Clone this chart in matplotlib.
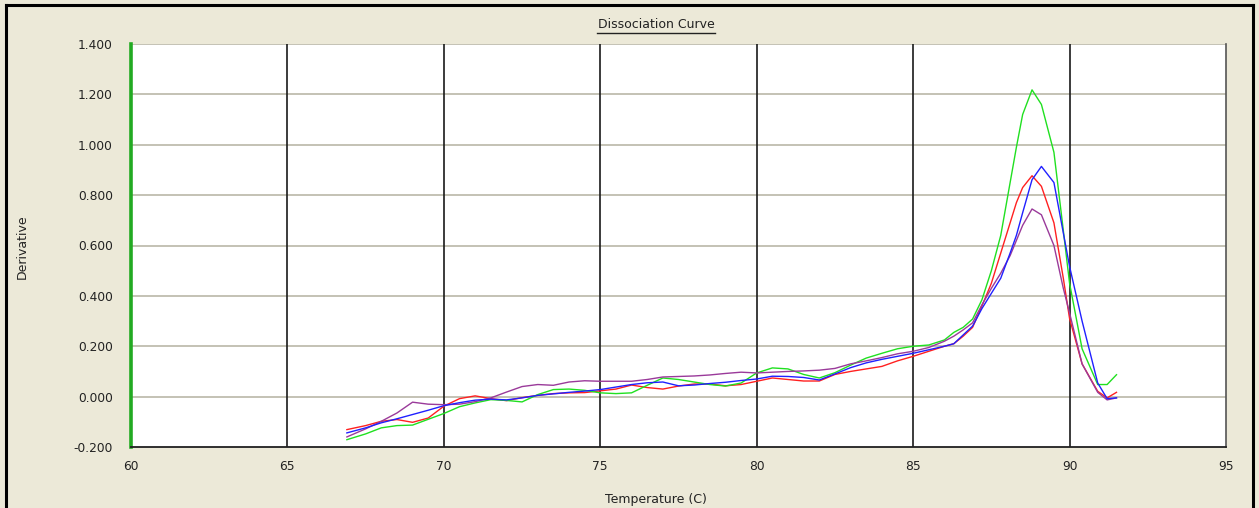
import matplotlib
matplotlib.use("Agg")
import matplotlib.pyplot as plt
from matplotlib.lines import Line2D

# melt curve readings (temperature in C, derivative)
temps = [66.9, 67.5, 68.0, 68.5, 69.0, 69.5, 70.0, 70.5, 71.0, 71.5,
         72.0, 72.5, 73.0, 73.5, 74.0, 74.5, 75.0, 75.5, 76.0, 76.5,
         77.0, 77.5, 78.0, 78.5, 79.0, 79.5, 80.0, 80.5, 81.0, 81.5,
         82.0, 82.5, 83.0, 83.5, 84.0, 84.5, 85.0, 85.5, 86.0, 86.3,
         86.6, 86.9, 87.2, 87.5, 87.8, 88.1, 88.3, 88.5, 88.8, 89.1,
         89.5, 89.8, 90.0, 90.4, 90.9, 91.2, 91.5]

green = [-0.171, -0.148, -0.124, -0.115, -0.113, -0.090, -0.067, -0.040, -0.025, -0.012,
         -0.015, -0.021, 0.008, 0.028, 0.030, 0.025, 0.015, 0.012, 0.015, 0.045,
         0.074, 0.068, 0.058, 0.048, 0.042, 0.054, 0.094, 0.114, 0.110, 0.088,
         0.074, 0.095, 0.125, 0.153, 0.172, 0.190, 0.200, 0.205, 0.225, 0.255,
         0.275, 0.308, 0.385, 0.500, 0.640, 0.850, 0.990, 1.120, 1.218, 1.160,
         0.970, 0.660, 0.450, 0.190, 0.048, 0.048, 0.087]

red = [-0.131, -0.115, -0.098, -0.091, -0.102, -0.085, -0.038, -0.008, 0.003, -0.008,
       -0.016, -0.004, 0.005, 0.012, 0.015, 0.016, 0.023, 0.030, 0.046, 0.036,
       0.030, 0.042, 0.050, 0.050, 0.043, 0.048, 0.061, 0.074, 0.068, 0.062,
       0.062, 0.088, 0.100, 0.110, 0.120, 0.142, 0.160, 0.180, 0.200, 0.210,
       0.240, 0.275, 0.360, 0.450, 0.570, 0.690, 0.770, 0.830, 0.877, 0.835,
       0.690, 0.470, 0.310, 0.130, 0.021, -0.005, 0.017]

blue = [-0.144, -0.124, -0.104, -0.088, -0.071, -0.054, -0.036, -0.024, -0.014, -0.010,
        -0.013, -0.005, 0.005, 0.011, 0.017, 0.022, 0.028, 0.038, 0.048, 0.055,
        0.058, 0.043, 0.046, 0.052, 0.057, 0.064, 0.070, 0.081, 0.080, 0.076,
        0.066, 0.090, 0.115, 0.134, 0.148, 0.160, 0.172, 0.186, 0.200, 0.210,
        0.245, 0.280, 0.350, 0.410, 0.470, 0.570, 0.640, 0.730, 0.861, 0.914,
        0.850, 0.650, 0.517, 0.300, 0.054, -0.008, -0.005]

purple = [-0.160, -0.128, -0.098, -0.065, -0.022, -0.030, -0.032, -0.030, -0.020, -0.005,
          0.018, 0.040, 0.048, 0.045, 0.058, 0.063, 0.061, 0.061, 0.061, 0.068,
          0.078, 0.080, 0.082, 0.086, 0.092, 0.097, 0.094, 0.097, 0.100, 0.102,
          0.105, 0.112, 0.130, 0.142, 0.155, 0.170, 0.180, 0.195, 0.220, 0.240,
          0.265, 0.293, 0.365, 0.430, 0.490, 0.560, 0.620, 0.680, 0.745, 0.722,
          0.600, 0.430, 0.332, 0.130, 0.017, -0.013, -0.005]

x_ticks = [60, 65, 70, 75, 80, 85, 90, 95]
y_ticks = [-0.2, 0.0, 0.2, 0.4, 0.6, 0.8, 1.0, 1.2, 1.4]

bg = '#ECE9D8'
W, H = 1259, 508

fig = plt.figure(figsize=(12.59, 5.08), dpi=100, facecolor=bg)
ax = fig.add_axes([131 / W, 1 - 447 / H, (1226 - 131) / W, (447 - 44) / H])
ax.set_facecolor('white')

# grid: grey horizontals, dark verticals
for yv in y_ticks[1:]:
    ax.axhline(yv, color='#C4C2B4', lw=1.4, zorder=1)
for xv in x_ticks[1:-1]:
    ax.axvline(xv, color='#1a1a1a', lw=1.2, zorder=1)

ax.plot(temps, red, color='#FF2020', lw=1.0, zorder=3)
ax.plot(temps, green, color='#20E020', lw=1.0, zorder=3)
ax.plot(temps, purple, color='#9A3A9A', lw=1.0, zorder=3)
ax.plot(temps, blue, color='#2020FF', lw=1.0, zorder=4)

ax.set_xlim(60, 95)
ax.set_ylim(-0.2, 1.4)
ax.set_xticks(x_ticks)
ax.set_yticks(y_ticks)
ax.set_xticklabels([str(v) for v in x_ticks])
ax.set_yticklabels(['%.3f' % v for v in y_ticks])
ax.tick_params(length=0, labelsize=8.8, colors='#222222')
ax.tick_params(axis='y', pad=13)
ax.tick_params(axis='x', pad=9)

ax.spines['left'].set_color('#22AA22')
ax.spines['left'].set_linewidth(2.6)
ax.spines['bottom'].set_color('#202020')
ax.spines['bottom'].set_linewidth(1.3)
ax.spines['right'].set_color('#555555')
ax.spines['right'].set_linewidth(1.2)
ax.spines['top'].set_visible(False)

# labels
fig.text(22 / W, 1 - 247 / H, 'Derivative', rotation=90, ha='center', va='center',
         fontsize=9, color='#222222')
fig.text(656 / W, 1 - 500 / H, 'Temperature (C)', ha='center', va='center',
         fontsize=9, color='#222222')
fig.text(656 / W, 1 - 25 / H, 'Dissociation Curve', ha='center', va='center',
         fontsize=9, color='#222222')
fig.add_artist(Line2D([597 / W, 715 / W], [1 - 33 / H, 1 - 33 / H],
                      color='#222222', lw=1.0))

# window frame
fig.add_artist(Line2D([6 / W, 6 / W], [0, 1 - 5 / H], color='black', lw=2.2))
fig.add_artist(Line2D([6 / W, 1253 / W], [1 - 5 / H, 1 - 5 / H], color='black', lw=2.2))
fig.add_artist(Line2D([1253 / W, 1253 / W], [0, 1 - 5 / H], color='black', lw=2.2))

plt.savefig('out.png', dpi=100, facecolor=bg)
